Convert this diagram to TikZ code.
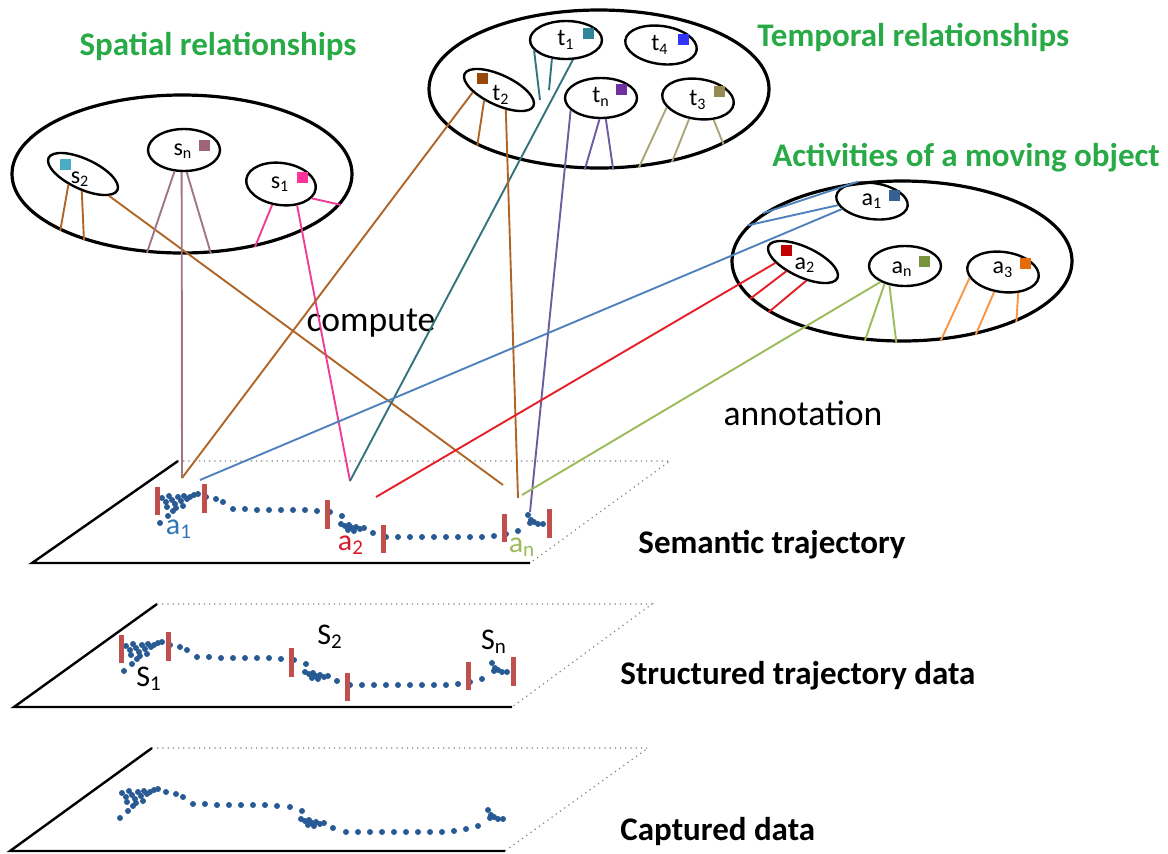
\documentclass[tikz,border=0pt]{standalone}
\usepackage{fontspec}
\setmainfont{Carlito}
\usetikzlibrary{shapes.geometric}
\definecolor{titlegreen}{RGB}{40,170,70}
\definecolor{sbrown}{RGB}{176,101,38}
\definecolor{smauve}{RGB}{158,118,135}
\definecolor{spink}{RGB}{240,60,150}
\definecolor{tteal}{RGB}{50,115,125}
\definecolor{tpurple}{RGB}{112,90,160}
\definecolor{tkhaki}{RGB}{170,165,120}
\definecolor{ablue}{RGB}{79,129,189}
\definecolor{ared}{RGB}{230,30,40}
\definecolor{agreen}{RGB}{155,187,89}
\definecolor{aorange}{RGB}{247,150,70}
\definecolor{sqcyan}{RGB}{75,172,198}
\definecolor{sqmauve}{RGB}{160,100,120}
\definecolor{sqpink}{RGB}{255,51,153}
\definecolor{sqteal}{RGB}{49,133,155}
\definecolor{sqblue}{RGB}{51,51,255}
\definecolor{sqbrown}{RGB}{152,72,7}
\definecolor{sqpurple}{RGB}{112,48,160}
\definecolor{sqkhaki}{RGB}{148,138,84}
\definecolor{sqnavy}{RGB}{55,96,146}
\definecolor{sqred}{RGB}{192,0,0}
\definecolor{sqgreen}{RGB}{119,147,60}
\definecolor{sqorange}{RGB}{228,108,10}
\definecolor{barred}{RGB}{192,80,77}
\definecolor{dotblue}{RGB}{40,90,148}
\definecolor{lblue}{RGB}{46,117,182}
\definecolor{lred}{RGB}{215,25,45}
\definecolor{lgreen}{RGB}{155,187,89}
\newcommand\trajdots{\foreach \tx/\ty in {126/646,130/650,133/644,136/648,139/652,142/645,145/649,148/644,151/647,154/645,158/643,162/642,131/655,140/656,147/654,137/659,124/671,132/664,170/645,180/647,187/650,197/657,209/657,221/658,233/658,245/658,257/658,269/658,281/659,294/660,306/664,305/672,309/674,313/673,316/676,320/675,324/677,328/676,312/678,318/679,337/681,350/685,362/685,374/685,386/685,398/685,410/685,422/685,434/685,446/685,458/684,470/682,482/679,492/663,495/668,494/671,498/670,502/672,507/672}
  \fill[dotblue] (\tx,\ty) circle (3);}
\newcommand\trajbars{\foreach \tx/\ta/\tb in {121/635/663,168/632/661,291/648/677,347/673/701,468/662/690,513/657/686}
  \draw[bar] (\tx,\ta) -- (\tx,\tb);}

\begin{document}
\begin{tikzpicture}[x=0.5pt,y=-0.5pt,
  bigset/.style={draw, ellipse, line width=1.6pt, minimum width=170pt, minimum height=79pt, inner sep=0pt},
  elem/.style={draw, ellipse, line width=1.2pt, minimum width=36pt, minimum height=20pt, inner sep=0pt},
  flat elem/.style={elem, minimum width=38pt, minimum height=15pt, rotate=-25},
  lab/.style={font=\fontsize{12}{14}\selectfont, inner sep=0pt},
  sq/.style={minimum size=5.5pt, inner sep=0pt},
  title/.style={font=\fontsize{16.5}{19}\selectfont\bfseries, text=titlegreen, inner sep=0pt},
  verb/.style={font=\fontsize{17.8}{20}\selectfont},
  layer/.style={font=\fontsize{16.5}{19}\selectfont\bfseries, anchor=west, inner sep=0pt},
  plab/.style={font=\fontsize{15}{17}\selectfont, inner sep=0pt},
  link/.style={line width=0.95pt},
  bar/.style={draw=barred, line width=2.5pt},
  plane/.style={line width=1.2pt},
  rim/.style={gray, dotted, line width=0.6pt}]
\useasboundingbox (0,0) rectangle (1168,853);

% titles
\node[title] (spatial-t) at (218,46) {Spatial relationships};
\node[title, anchor=west] (temporal-t) at (757,37) {Temporal relationships};
\node[title, anchor=west] (activity-t) at (772,158) {Activities of a moving object};

% the three sets
\node[bigset] (spatial) at (182,174) {};
\node[bigset] (temporal) at (599,89) {};
\node[bigset, minimum height=80pt] (activity) at (902,261) {};

% spatial elements
\node[flat elem] (s2) at (83,174) {};
\node[elem, minimum height=21pt] (sn) at (184,150) {};
\node[elem, minimum width=35pt, minimum height=21pt, rotate=-8] (s1) at (281,184) {};
\node[lab] (s2-l) at (80,179) {s\textsubscript{2}};
\node[lab] (sn-l) at (183,151) {s\textsubscript{n}};
\node[lab] (s1-l) at (280,184) {s\textsubscript{1}};
\node[sq, fill=sqcyan] (s2-q) at (65,164) {};
\node[sq, fill=sqmauve] (sn-q) at (204,145) {};
\node[sq, fill=sqpink] (s1-q) at (302,177) {};

% temporal elements
\node[elem, minimum height=19pt] (t1) at (566,40) {};
\node[elem, minimum height=19pt, rotate=-8] (t4) at (661,45) {};
\node[flat elem] (t2) at (499,90) {};
\node[elem] (tn) at (601,98) {};
\node[elem, rotate=-8] (t3) at (698,99) {};
\node[lab] (t1-l) at (566,40) {t\textsubscript{1}};
\node[lab] (t4-l) at (660,45) {t\textsubscript{4}};
\node[lab] (t2-l) at (501,95) {t\textsubscript{2}};
\node[lab] (tn-l) at (601,97) {t\textsubscript{n}};
\node[lab] (t3-l) at (698,100) {t\textsubscript{3}};
\node[sq, fill=sqteal] (t1-q) at (588,33) {};
\node[sq, fill=sqblue] (t4-q) at (683,39) {};
\node[sq, fill=sqbrown] (t2-q) at (482,78) {};
\node[sq, fill=sqpurple] (tn-q) at (621,89) {};
\node[sq, fill=sqkhaki] (t3-q) at (719,91) {};

% activity elements
\node[elem, minimum height=18pt, rotate=-8] (a1) at (872,201) {};
\node[flat elem] (a2) at (803,262) {};
\node[elem] (an) at (905,266) {};
\node[elem, rotate=-8] (a3) at (1003,272) {};
\node[lab] (a1-l) at (872,201) {a\textsubscript{1}};
\node[lab] (a2-l) at (805,265) {a\textsubscript{2}};
\node[lab] (an-l) at (902,269) {a\textsubscript{n}};
\node[lab] (a3-l) at (1003,270) {a\textsubscript{3}};
\node[sq, fill=sqnavy] (a1-q) at (894,195) {};
\node[sq, fill=sqred] (a2-q) at (786,250) {};
\node[sq, fill=sqgreen] (an-q) at (924,261) {};
\node[sq, fill=sqorange] (a3-q) at (1025,263) {};

% verbs
\node[verb] (compute) at (371,323) {compute};
\node[verb] (annotation) at (803,413) {annotation};

% planes
\draw[plane] (178,461) -- (32,563) -- (530,563);
\draw[rim] (178,461) -- (670,461) -- (530,563);
\draw[plane] (157,604) -- (14,707) -- (512,707);
\draw[rim] (157,604) -- (652,604) -- (512,707);
\draw[plane] (152,748) -- (10,851) -- (505,851);
\draw[rim] (152,748) -- (648,748) -- (505,851);

% trajectories
\begin{scope}[shift={(36,-148)}]
\trajdots
\trajbars
\end{scope}
\trajdots
\trajbars
\begin{scope}[shift={(-4,147)}]
\trajdots
\end{scope}

\node[plab, text=lblue] (a1-p) at (179,529) {a\textsubscript{1}};
\node[plab, text=lred] (a2-p) at (351,545) {a\textsubscript{2}};
\node[plab, text=lgreen] (an-p) at (522,547) {a\textsubscript{n}};
\node[plab] (S1-p) at (149,679) {S\textsubscript{1}};
\node[plab] (S2-p) at (330,637) {S\textsubscript{2}};
\node[plab] (Sn-p) at (494,642) {S\textsubscript{n}};

\node[layer] (semantic) at (638,545) {Semantic trajectory};
\node[layer] (structured) at (620,676) {Structured trajectory data};
\node[layer] (captured) at (620,832) {Captured data};

% end points on the semantic trajectory
\coordinate (a1top) at (182,478);
\coordinate (a1end) at (200,480);
\coordinate (a2top) at (350,481);
\coordinate (a2end) at (376,497);
\coordinate (anleft) at (503,485);
\coordinate (antop) at (518,498);
\coordinate (anright) at (530,512);
\coordinate (anend) at (522,495);
\coordinate (t1stubA) at (540,100);
\coordinate (t1stubB) at (549,90);

% spatial links
\draw[link, sbrown] (s2.241) -- (spatial.205);
\draw[link, sbrown] (s2.291) -- (spatial.214);
\draw[link, sbrown] (s2.345) -- (anleft);
\draw[link, smauve] (sn.246) -- (spatial.246);
\draw[link, smauve] (sn.264) -- (a1top);
\draw[link, smauve] (sn.277) -- (spatial.290);
\draw[link, spink] (s1.255) -- (spatial.315);
\draw[link, spink] (s1.315) -- (a2top);
\draw[link, spink] (s1.343) -- (spatial.349);

% temporal links
\draw[link, tteal] (t1.198) -- (t1stubA);
\draw[link, tteal] (t1.233) -- (t1stubB);
\draw[link, tteal] (t1.289) -- (a2top);
\draw[link, sbrown] (t2.210) -- (a1top);
\draw[link, sbrown] (t2.240) -- (temporal.205);
\draw[link, sbrown] (t2.314) -- (antop);
\draw[link, tpurple] (tn.202) -- (anright);
\draw[link, tpurple] (tn.266) -- (temporal.260);
\draw[link, tpurple] (tn.283) -- (temporal.280);
\draw[link, tkhaki] (t3.203) -- (temporal.297);
\draw[link, tkhaki] (t3.254) -- (temporal.315);
\draw[link, tkhaki] (t3.315) -- (temporal.336);

% activity links
\draw[link, ablue] (a1.134) -- (activity.161);
\draw[link, ablue] (a1.195) -- (activity.167);
\draw[link, ablue] (a1.203) -- (a1end);
\draw[link, ared] (a2.207) -- (a2end);
\draw[link, ared] (a2.234) -- (activity.194);
\draw[link, ared] (a2.305) -- (activity.201);
\draw[link, agreen] (an.213) -- (anend);
\draw[link, agreen] (an.221) -- (activity.245);
\draw[link, agreen] (an.231) -- (activity.266);
\draw[link, aorange] (a3.198) -- (activity.296);
\draw[link, aorange] (a3.254) -- (activity.315);
\draw[link, aorange] (a3.314) -- (activity.332);
\end{tikzpicture}
\end{document}
